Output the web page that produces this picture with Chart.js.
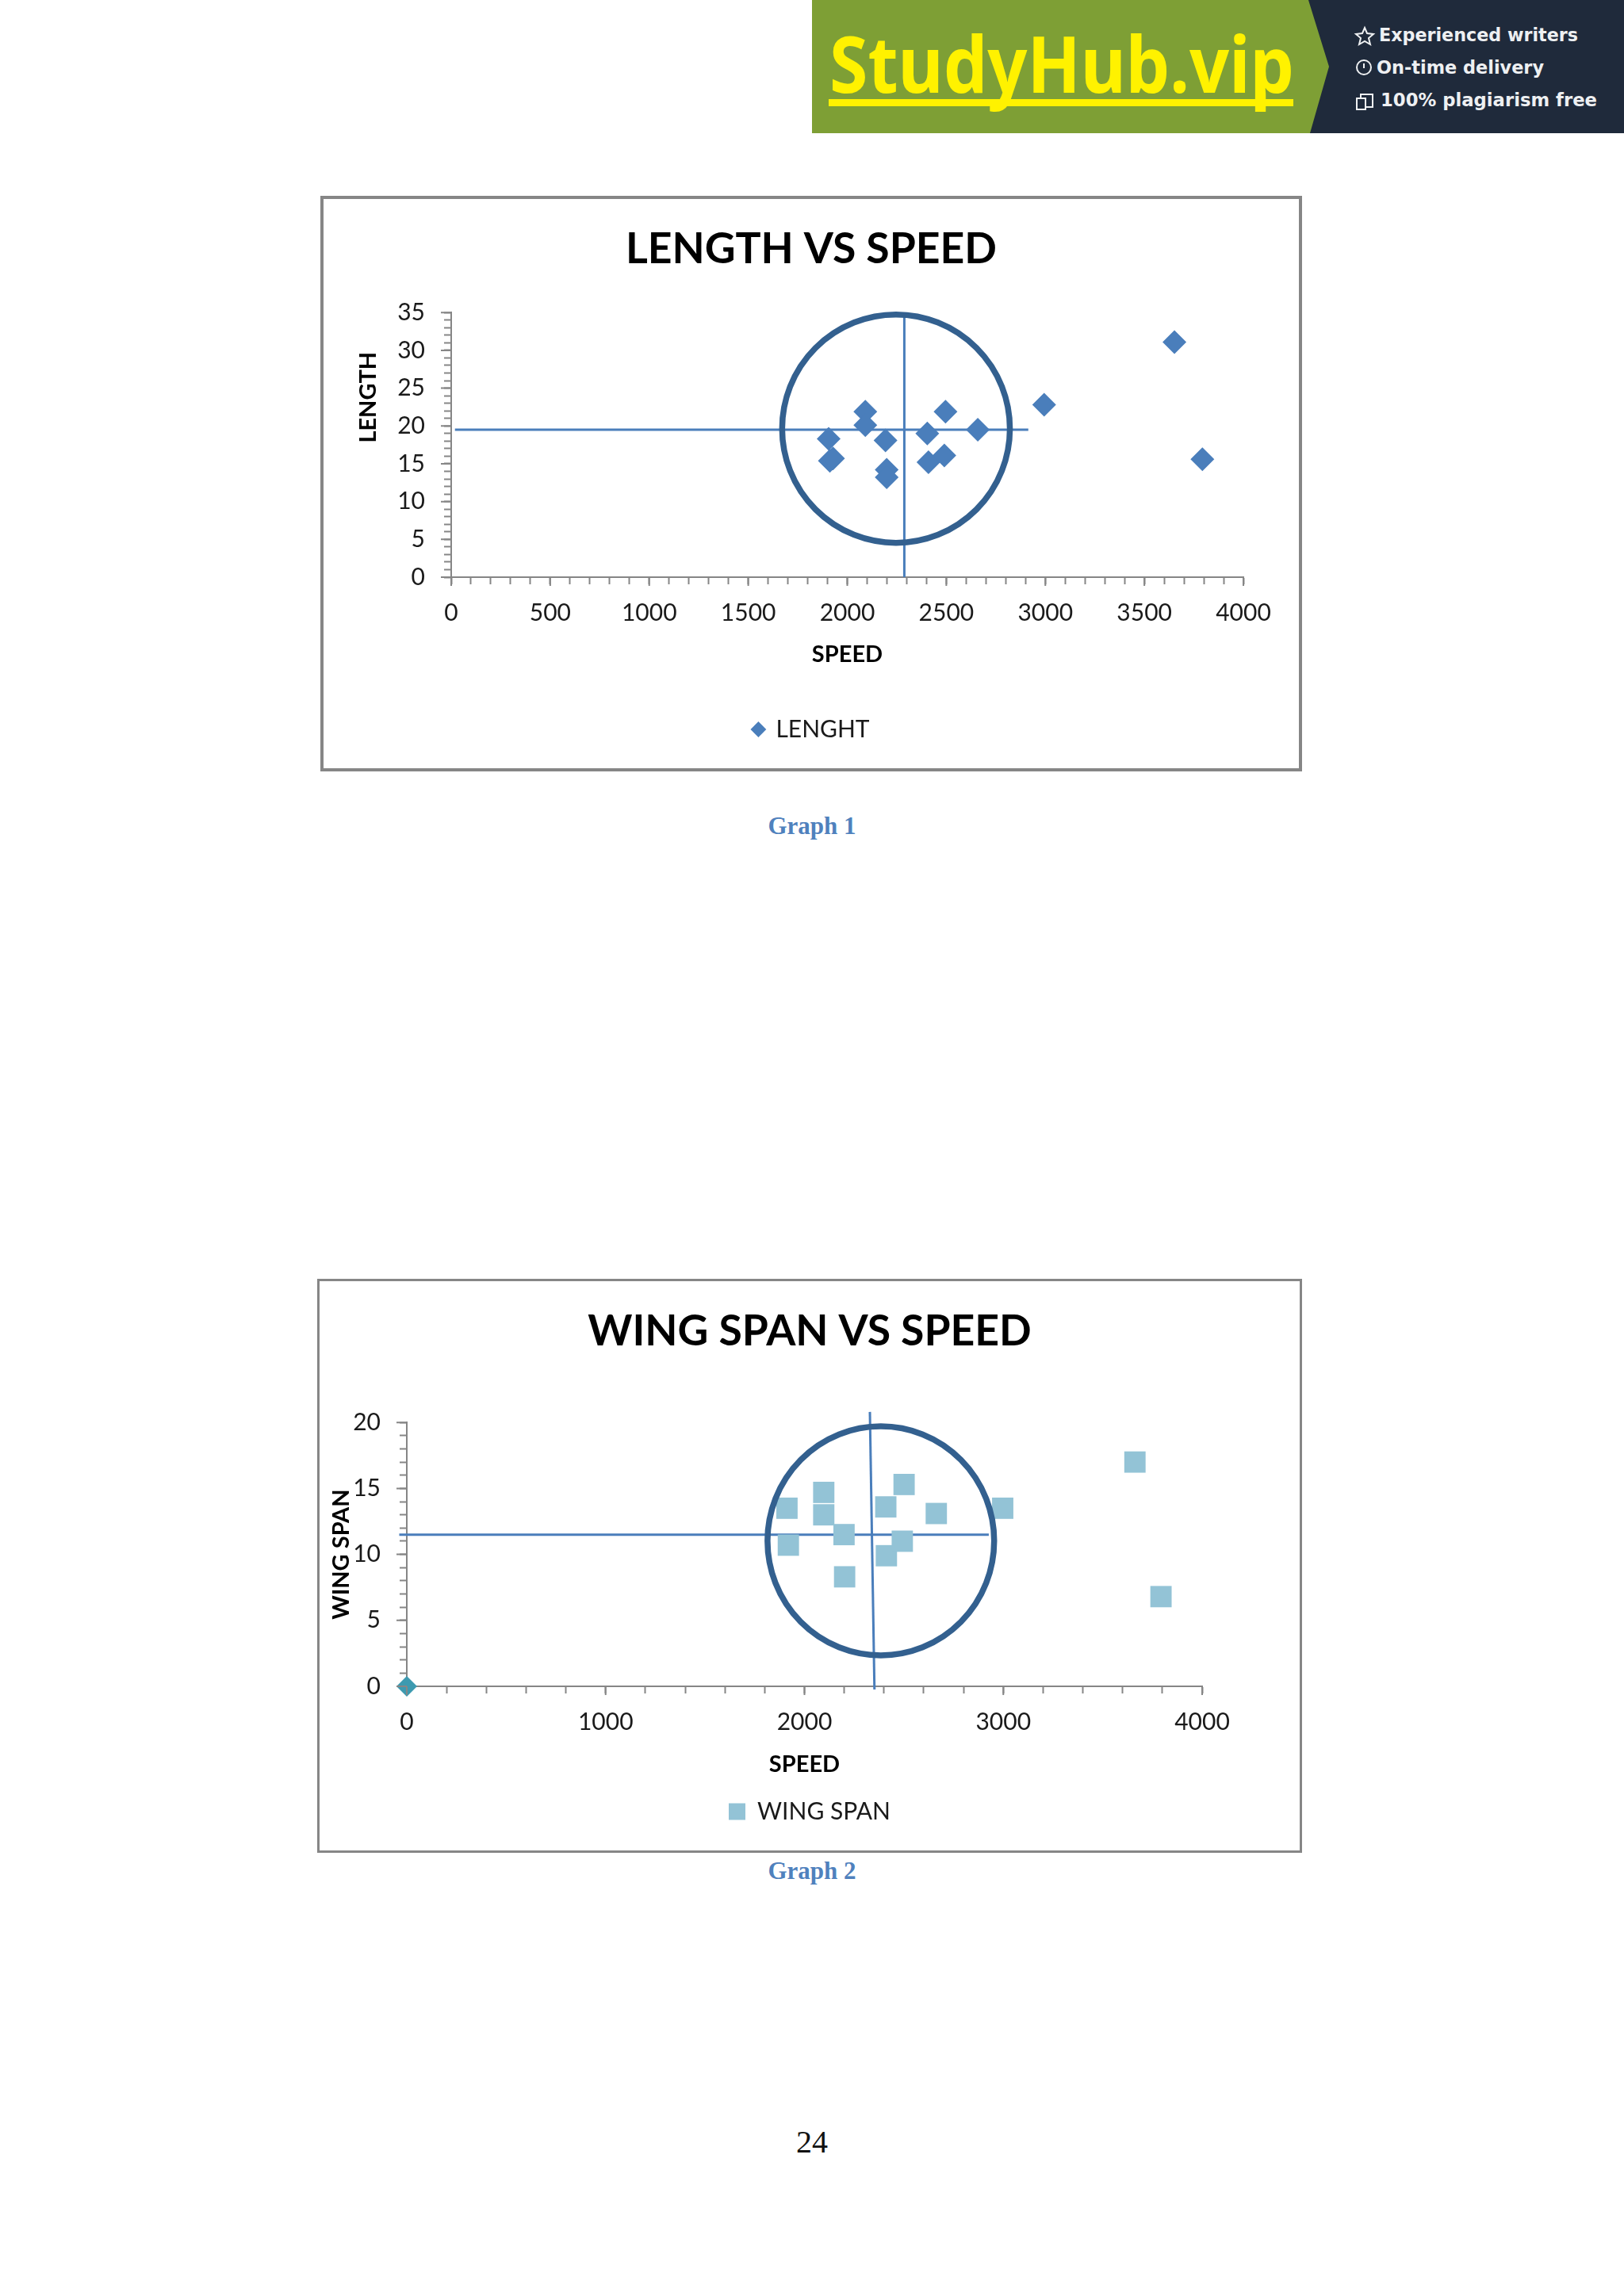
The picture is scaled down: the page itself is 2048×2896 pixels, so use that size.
<!DOCTYPE html>
<html>
<head>
<meta charset="utf-8">
<title>Graph 1 and Graph 2</title>
<script src="https://cdn.jsdelivr.net/npm/chart.js@4"></script>
<style>
  html, body { margin: 0; padding: 0; background: #fff; }
  body { position: relative; width: 2048px; height: 2896px; overflow: hidden; }
  #banner { position: absolute; left: 0; top: 0; }
  canvas { position: absolute; outline-style: solid; outline-color: #868686; }
  #lengthChart { left: 404px; top: 247px; outline-width: 4px; outline-offset: -4px; }
  #wingChart { left: 400px; top: 1613px; outline-width: 3px; outline-offset: -3px; }
  .caption {
    position: absolute; left: 0; width: 2048px; text-align: center;
    font: bold 31px "Liberation Serif", serif; color: #4f81bd;
  }
  #pageNo {
    position: absolute; left: 0; width: 2048px; top: 2678px; text-align: center;
    font: 40px "Liberation Serif", serif; color: #111;
  }
</style>
</head>
<body>

<svg id="banner" width="2048" height="168" xmlns="http://www.w3.org/2000/svg">
  <rect x="1024" y="0" width="1024" height="168" fill="#7e9f35"/>
  <polygon points="1650,0 2048,0 2048,168 1652,168 1676,84" fill="#1f2a3b"/>
  <text x="1046" y="117" textLength="586" lengthAdjust="spacingAndGlyphs" fill="#fff200"
        font-family="Noto Sans" font-weight="bold" font-size="98">StudyHub.vip</text>
  <rect x="1045" y="125" width="586" height="9" fill="#fff200"/>
  <g fill="#eef0f2" font-family="DejaVu Sans" font-weight="bold" font-size="23">
    <text x="1739" y="52" textLength="251" lengthAdjust="spacingAndGlyphs">Experienced writers</text>
    <text x="1736" y="93" textLength="211" lengthAdjust="spacingAndGlyphs">On-time delivery</text>
    <text x="1741" y="134" textLength="273" lengthAdjust="spacingAndGlyphs">100% plagiarism free</text>
  </g>
  <g fill="none" stroke="#eef0f2" stroke-width="2">
    <polygon points="1721,35 1724,42 1732,43 1726,48 1728,56 1721,52 1714,56 1716,48 1710,43 1718,42"/>
    <circle cx="1720" cy="85" r="9"/>
    <line x1="1720" y1="80" x2="1720" y2="86"/>
    <rect x="1716" y="119" width="15" height="16"/>
    <rect x="1711" y="124" width="11" height="14" fill="#1f2a3b"/>
  </g>
</svg>

<canvas id="lengthChart" width="1238" height="726"></canvas>
<div class="caption" style="top:1024px">Graph 1</div>

<canvas id="wingChart" width="1242" height="724"></canvas>
<div class="caption" style="top:2342px">Graph 2</div>

<div id="pageNo">24</div>

<script>
// Values
const lengthSpeed = [1906, 1912, 1928, 2091, 2091, 2193, 2199, 2199, 2404, 2410, 2490, 2496, 2659, 2994, 3652, 3793];
const lengthValues = [18.3, 15.4, 15.7, 21.9, 20.1, 18.1, 14.2, 13.2, 19.0, 15.2, 16.1, 21.9, 19.5, 22.8, 31.1, 15.6];
const lengthCrossX = [19, 2914, 2288, 2288];
const lengthCrossY = [19.5, 19.5, 35, 0];
const lengthRing = [2246, 19.64, 575, 15.1]; // centre x, centre y, radius x, radius y

const wingSpeed = [1912, 1919, 2097, 2097, 2199, 2202, 2409, 2412, 2492, 2501, 2663, 2997, 3662, 3793];
const wingValues = [13.5, 10.7, 14.7, 13.0, 11.5, 8.3, 13.6, 9.9, 11.0, 15.3, 13.1, 13.5, 17.0, 6.8];
const wingCrossX = [-38, 2927, 2329, 2352];
const wingCrossY = [11.5, 11.5, 20.8, -0.24];
const wingRing = [2384, 11.03, 570, 8.68];
const originPoint = [0, 0];

const AXIS_GREY = '#868686';
const LINE_BLUE = '#4a7ebb';
const RING_BLUE = '#33608f';

Chart.defaults.font.family = 'Lato';
Chart.defaults.color = '#1a1a1a';

function toPoints(xs, ys) {
  return xs.map((x, i) => ({ x: x, y: ys[i] }));
}

// oval marked by hand on the original graphs, placed through the scales
const ringPlugin = {
  id: 'ring',
  afterDatasetsDraw(chart, args, opts) {
    const { x, y } = chart.scales;
    const [cx, cy, rx, ry] = opts.values;
    const ctx = chart.ctx;
    ctx.save();
    ctx.strokeStyle = RING_BLUE;
    ctx.lineWidth = 7.5;
    ctx.beginPath();
    ctx.ellipse(
      x.getPixelForValue(cx), y.getPixelForValue(cy),
      Math.abs(x.getPixelForValue(cx + rx) - x.getPixelForValue(cx)),
      Math.abs(y.getPixelForValue(cy + ry) - y.getPixelForValue(cy)),
      0, 0, Math.PI * 2
    );
    ctx.stroke();
    ctx.restore();
  },
};

// major ticks are a little longer than the minor ones
const majorTickPlugin = {
  id: 'majorTicks',
  afterDraw(chart, args, opts) {
    const { x, y } = chart.scales;
    const ctx = chart.ctx;
    ctx.save();
    ctx.strokeStyle = AXIS_GREY;
    ctx.lineWidth = 2;
    ctx.beginPath();
    x.ticks.forEach((t) => {
      if (t.value % opts.xMajor !== 0) return;
      const px = x.getPixelForValue(t.value);
      ctx.moveTo(px, y.bottom);
      ctx.lineTo(px, y.bottom + 11);
    });
    y.ticks.forEach((t) => {
      if (t.value % opts.yMajor !== 0) return;
      const py = y.getPixelForValue(t.value);
      ctx.moveTo(x.left, py);
      ctx.lineTo(x.left - 13, py);
    });
    ctx.stroke();
    ctx.restore();
  },
};

function axisBase(step, major) {
  return {
    border: { color: AXIS_GREY, width: 2 },
    grid: { drawOnChartArea: false, tickLength: 9, tickWidth: 2, tickColor: AXIS_GREY },
    ticks: {
      stepSize: step,
      autoSkip: false,
      maxRotation: 0,
      font: { size: 30 },
      callback: (v) => (v % major === 0 ? String(v) : ''),
    },
  };
}

function makeChart(id, cfg) {
  const xAxis = axisBase(cfg.xStep, cfg.xMajor);
  xAxis.min = 0;
  xAxis.max = cfg.xMax;
  xAxis.ticks.padding = 18;
  xAxis.title = {
    display: true, text: 'SPEED', color: '#000',
    font: { size: 29, weight: 'bold' },
    padding: { top: 0, bottom: cfg.xTitleGap },
  };
  xAxis.afterFit = (s) => { s.height = cfg.xHeight; };

  const yAxis = axisBase(1, cfg.yMajor);
  yAxis.min = 0;
  yAxis.max = cfg.yMax;
  yAxis.ticks.padding = 24;
  yAxis.title = {
    display: true, text: cfg.yTitle, color: '#000',
    font: { size: 29, weight: 'bold' },
    padding: { top: cfg.yTitleGap, bottom: 0 },
  };
  yAxis.afterFit = (s) => { s.width = cfg.yWidth; };

  return new Chart(document.getElementById(id), {
    type: 'scatter',
    data: { datasets: cfg.datasets },
    plugins: [ringPlugin, majorTickPlugin],
    options: {
      responsive: false,
      animation: false,
      devicePixelRatio: 1,
      layout: { padding: { bottom: cfg.bottomPad } },
      scales: {
        x: xAxis,
        y: yAxis,
        // empty scale, only keeps the right margin without moving title and legend
        spacer: {
          axis: 'y', position: 'right',
          grid: { display: false }, border: { display: false }, ticks: { display: false },
          afterFit: (s) => { s.width = cfg.rightMargin; },
        },
      },
      plugins: {
        tooltip: { enabled: false },
        title: {
          display: true, text: cfg.title, color: '#000',
          font: { size: 53.5, weight: 'bold' },
          padding: cfg.titlePad,
        },
        legend: {
          position: 'bottom',
          labels: {
            usePointStyle: true,
            boxWidth: cfg.legendBox,
            boxHeight: cfg.legendBox,
            padding: 8,
            color: '#1a1a1a',
            font: { size: 30 },
            filter: (item) => !!item.text,
          },
        },
        ring: { values: cfg.ring },
        majorTicks: { xMajor: cfg.xMajor, yMajor: cfg.yMajor },
      },
    },
  });
}

function crossLines(xs, ys) {
  const line = {
    showLine: true, pointRadius: 0, borderColor: LINE_BLUE, borderWidth: 3, clip: false,
  };
  return [
    Object.assign({ data: toPoints(xs.slice(0, 2), ys.slice(0, 2)) }, line),
    Object.assign({ data: toPoints(xs.slice(2), ys.slice(2)) }, line),
  ];
}

makeChart('lengthChart', {
  title: 'LENGTH VS SPEED',
  titlePad: { top: 36, bottom: 47 },
  yTitle: ' '.repeat(17) + 'LENGTH',
  xMax: 4000, xStep: 100, xMajor: 500,
  yMax: 35, yMajor: 5,
  yWidth: 165, rightMargin: 74, xHeight: 169, bottomPad: 28,
  xTitleGap: 54, yTitleGap: 43,
  legendBox: 14,
  ring: lengthRing,
  datasets: [
    {
      label: 'LENGHT', data: toPoints(lengthSpeed, lengthValues), clip: false,
      pointStyle: 'rectRot', pointRadius: 15, pointBorderWidth: 0,
      backgroundColor: LINE_BLUE, borderColor: LINE_BLUE,
    },
    ...crossLines(lengthCrossX, lengthCrossY),
  ],
});

makeChart('wingChart', {
  title: 'WING SPAN VS SPEED',
  titlePad: { top: 35, bottom: 82 },
  yTitle: 'WING SPAN',
  xMax: 4000, xStep: 200, xMajor: 1000,
  yMax: 20, yMajor: 5,
  yWidth: 113, rightMargin: 126, xHeight: 135, bottomPad: 27,
  xTitleGap: 19, yTitleGap: 13,
  legendBox: 21,
  ring: wingRing,
  datasets: [
    {
      label: 'WING SPAN', data: toPoints(wingSpeed, wingValues), clip: false,
      pointStyle: 'rect', pointRadius: 19, pointBorderWidth: 0,
      backgroundColor: '#93c3d6', borderColor: '#93c3d6',
    },
    {
      data: [{ x: originPoint[0], y: originPoint[1] }], clip: false,
      pointStyle: 'rectRot', pointRadius: 13, pointBorderWidth: 0,
      backgroundColor: '#3d9ab0',
    },
    ...crossLines(wingCrossX, wingCrossY),
  ],
});
</script>
</body>
</html>
